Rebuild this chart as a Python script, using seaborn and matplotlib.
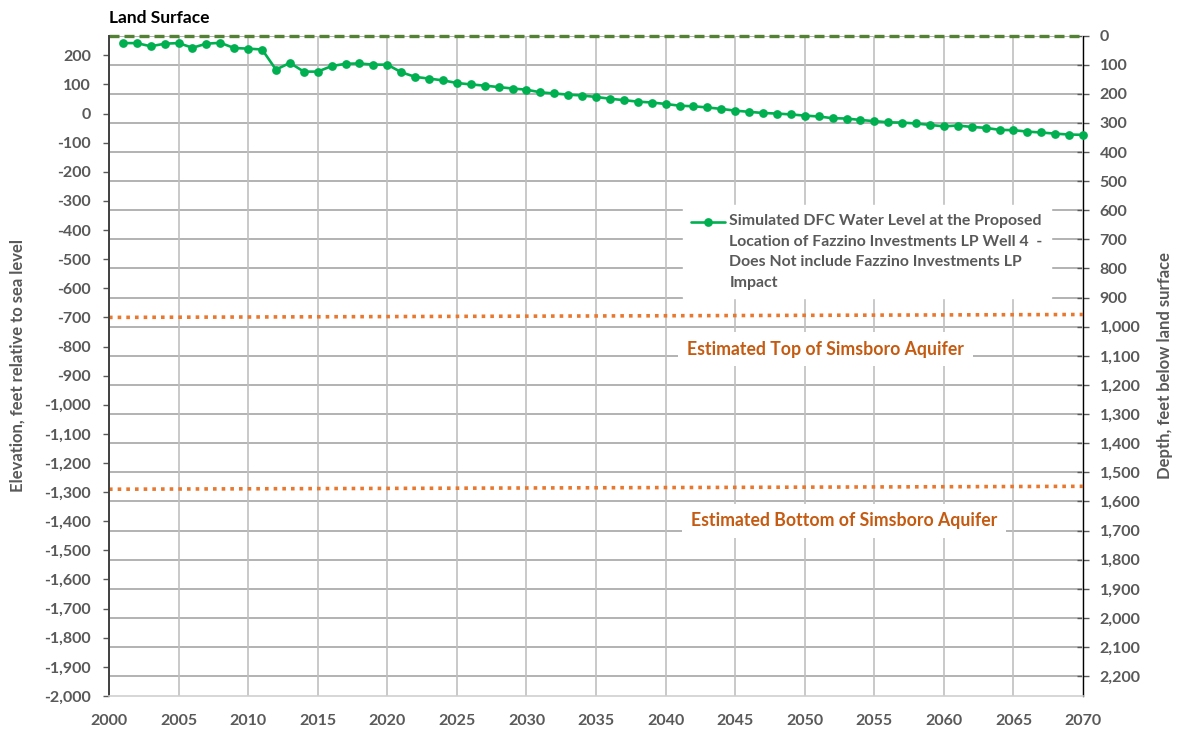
import matplotlib
matplotlib.use("Agg")
import matplotlib.pyplot as plt
import numpy as np
import pandas as pd
import seaborn as sns

# ---- data ----
years = list(range(2001, 2071))
water_level = [
    242, 242, 231, 240, 242, 226, 240, 243, 225, 223,
    220, 151, 174, 144, 144, 163, 171, 172, 168, 168,
    142, 126, 120, 114, 105, 100, 96, 91, 86, 82,
    73, 69, 65, 62, 57, 51, 46, 41, 38, 33,
    27, 25, 21, 16, 10, 6, 2, 0, -3, -7,
    -10, -16, -17, -22, -26, -30, -31, -34, -39, -44,
    -41, -46, -49, -56, -57, -62, -65, -69, -72, -73,
]
line_years = [2000, 2070]
land_surface = 268
land_line = [land_surface, land_surface]
top_simsboro = [-700, -690]
bottom_simsboro = [-1290, -1280]

elev_ticks = list(range(-2000, 201, 100))
depth_ticks = list(range(0, 2201, 100))
year_ticks = list(range(2000, 2071, 5))

legend_label = ("Simulated DFC Water Level at the Proposed\n"
                "Location of Fazzino Investments LP Well 4  -\n"
                "Does Not include Fazzino Investments LP\n"
                "Impact")

df = pd.DataFrame({"year": years, "level": water_level})

sns.set_theme(style="white")
plt.rcParams["font.family"] = ["Lato", "DejaVu Sans"]
plt.rcParams["font.weight"] = "bold"
plt.rcParams["axes.labelweight"] = "bold"
plt.rcParams["axes.unicode_minus"] = False

gray_txt = "#595959"
orange_line = "#E9782F"
orange_txt = "#C55A11"

fig, ax = plt.subplots(figsize=(11.77, 7.34), dpi=100)
fig.subplots_adjust(left=0.0926, right=0.9202, top=0.9516, bottom=0.0518)
ax2 = ax.twinx()
ax.set_zorder(ax2.get_zorder() + 1)
ax.patch.set_visible(False)

# reference lines
sns.lineplot(x=line_years, y=land_line, ax=ax, color="#548235", lw=2.4,
             linestyle=(0, (3, 1.5)), legend=False, clip_on=False)
sns.lineplot(x=line_years, y=top_simsboro, ax=ax, color=orange_line, lw=2.6,
             linestyle=(0, (1, 1.4)), legend=False)
sns.lineplot(x=line_years, y=bottom_simsboro, ax=ax, color=orange_line, lw=2.6,
             linestyle=(0, (1, 1.4)), legend=False)

# simulated water level
sns.lineplot(data=df, x="year", y="level", ax=ax, color="#00B050", lw=1.9,
             marker="o", markersize=6.3, markeredgewidth=0, clip_on=False,
             label=legend_label)

ax.set_xlim(2000, 2070)
ax.set_ylim(-2000, land_surface)
ax2.set_ylim(land_surface + 2000, 0)

ax.set_xticks(year_ticks)
ax.set_xticklabels([str(y) for y in year_ticks])
ax.set_yticks(elev_ticks)
ax.set_yticklabels([f"{v:,}" for v in elev_ticks])
ax2.set_yticks(depth_ticks)
ax2.set_yticklabels([f"{v:,}" for v in depth_ticks])

ax.xaxis.grid(True, color="#C0C0C0", lw=1.2)
ax.yaxis.grid(False)
ax2.yaxis.grid(True, color="#A6A6A6", lw=1.2)
ax2.xaxis.grid(False)

for s in ["top", "right"]:
    ax.spines[s].set_visible(False)
ax.spines["left"].set_color("#404040")
ax.spines["left"].set_linewidth(1.4)
ax.spines["bottom"].set_color("#D0D0D0")
ax.spines["bottom"].set_linewidth(1.2)
for s in ["top", "left", "bottom"]:
    ax2.spines[s].set_visible(False)
ax2.spines["right"].set_color("black")
ax2.spines["right"].set_linestyle((0, (1, 1)))
ax2.spines["right"].set_linewidth(1.0)

ax.tick_params(axis="y", left=True, length=4, width=1, color=gray_txt,
               pad=9, labelsize=11.5, labelcolor=gray_txt)
ax.tick_params(axis="x", bottom=False, length=0, pad=13, labelsize=11.5,
               labelcolor=gray_txt)
ax2.tick_params(axis="y", right=True, direction="inout", length=8, width=1,
                color=gray_txt, pad=8, labelsize=11.5, labelcolor=gray_txt)

ax.set_xlabel("")
ax.set_ylabel("Elevation, feet relative to sea level", fontsize=12, color=gray_txt)
ax.yaxis.set_label_coords(-0.086, 0.5)
ax2.set_ylabel("Depth, feet below land surface", fontsize=12, color=gray_txt)
ax2.yaxis.set_label_coords(1.076, 0.5)

ax.text(0.0, 1.026, "Land Surface", transform=ax.transAxes, fontsize=12.5,
        color="black", ha="left", va="center")

box = dict(facecolor="white", edgecolor="none", boxstyle="square,pad=0.5")
ax.text(2051.5, -809, "Estimated Top of Simsboro Aquifer", ha="center",
        va="center", fontsize=12.7, color=orange_txt, bbox=box, zorder=4)
ax.text(2052.8, -1399, "Estimated Bottom of Simsboro Aquifer", ha="center",
        va="center", fontsize=12.7, color=orange_txt, bbox=box, zorder=4)

leg = ax.legend(loc="upper left", bbox_to_anchor=(0.589, 0.743),
                borderaxespad=0, frameon=True, fancybox=False,
                facecolor="white", edgecolor="white", framealpha=1,
                fontsize=11.4, handlelength=2.1, handletextpad=0.3,
                borderpad=0.55, labelcolor=gray_txt)
leg.set_zorder(5)
leg.get_texts()[0].set_linespacing(1.6)

# move legend marker up to the first text line, as in the spreadsheet chart
fig.canvas.draw()
renderer = fig.canvas.get_renderer()
txt_box = leg.get_texts()[0].get_window_extent(renderer)
line_h = txt_box.height / 4
handle = leg.legend_handles[0]
h_box = handle.get_window_extent(renderer)
shift_px = (txt_box.y1 - line_h * 0.45) - (h_box.y0 + h_box.y1) / 2
handle.set_ydata(np.asarray(handle.get_ydata()) + shift_px * 72 / fig.dpi)

fig.savefig("out.png", dpi=100)
